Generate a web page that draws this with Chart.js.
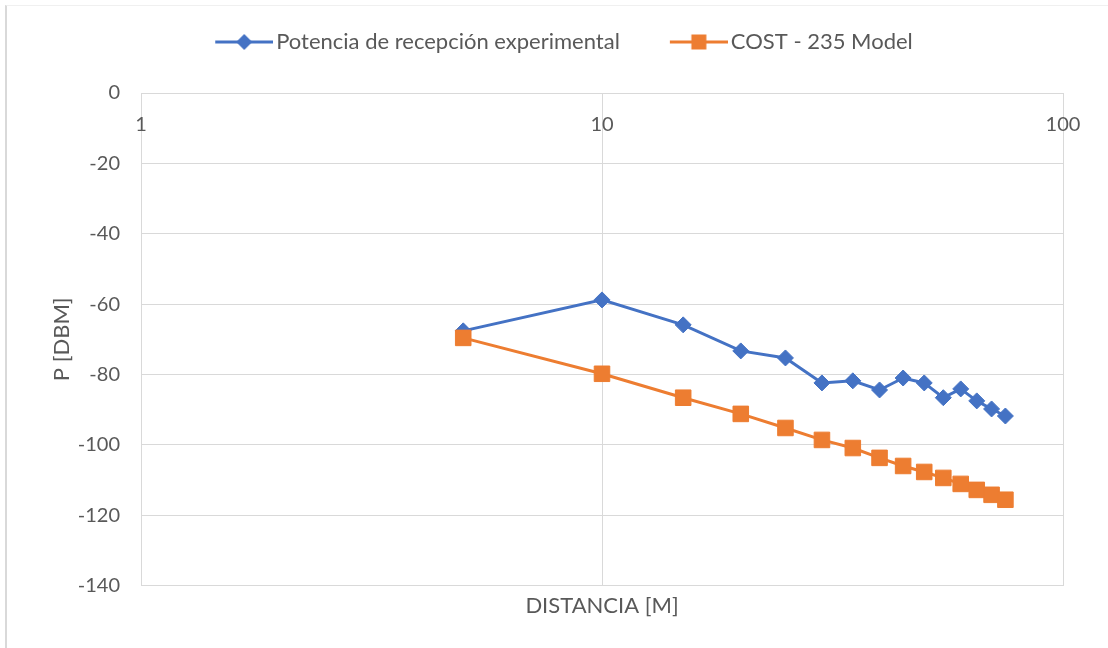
<!DOCTYPE html>
<html>
<head>
<meta charset="utf-8">
<script src="https://cdn.jsdelivr.net/npm/chart.js@4.4.1/dist/chart.umd.min.js"></script>
<style>
  html, body { margin: 0; padding: 0; background: #fff; }
  #wrap { position: relative; width: 1108px; height: 648px; }
  #frame { position: absolute; left: 5px; top: 5px; right: -10px; bottom: -10px;
           border-left: 2px solid #d9d9d9; border-top: 1px solid #f0f0f0; }
  canvas { position: absolute; left: 0; top: 0; }
</style>
</head>
<body>
<div id="wrap">
  <div id="frame"></div>
  <canvas id="chart" width="1108" height="648"></canvas>
</div>
<script>
// distancia en metros
const distances = [5, 10, 15, 20, 25, 30, 35, 40, 45, 50, 55, 60, 65, 70, 75];
// potencia de recepcion medida (dBm)
const experimental = [-67.6, -58.8, -65.9, -73.3, -75.3, -82.4, -81.8, -84.4, -81.0, -82.4, -86.6, -84.1, -87.5, -89.8, -91.8];
// modelo COST-235 (dBm)
const cost235 = [-69.6, -79.8, -86.6, -91.2, -95.2, -98.6, -100.9, -103.7, -106.0, -107.7, -109.4, -111.1, -112.8, -114.2, -115.6];
const xTicks = [1, 10, 100];
const seriesNames = ['Potencia de recepción experimental', 'COST - 235 Model'];

const BLUE = '#4472C4';
const ORANGE = '#ED7D31';
const GRID = '#d9d9d9';
const TEXT = '#595959';
const FONT = { family: 'Lato', size: 22 };
const TICK_FONT = { family: 'Lato', size: 20 };

// legend symbol: line with the marker in the middle (like Excel)
function legendIcon(color, shape) {
  const c = document.createElement('canvas');
  c.width = 86; c.height = 22;
  const g = c.getContext('2d');
  const x0 = c.width - 58, cx = c.width - 29, cy = 11;
  g.strokeStyle = color;
  g.lineWidth = 3;
  g.beginPath(); g.moveTo(x0, cy); g.lineTo(c.width, cy); g.stroke();
  g.fillStyle = color;
  g.beginPath();
  if (shape === 'diamond') {
    g.moveTo(cx, cy - 8); g.lineTo(cx + 8, cy); g.lineTo(cx, cy + 8); g.lineTo(cx - 8, cy);
  } else {
    g.rect(cx - 7.5, cy - 7.5, 15, 15);
  }
  g.closePath(); g.fill();
  return c;
}
const icons = [legendIcon(BLUE, 'diamond'), legendIcon(ORANGE, 'square')];

// extra room between legend and plot
const legendMargin = {
  id: 'legendMargin',
  beforeInit(chart) {
    const fit = chart.legend.fit;
    chart.legend.fit = function () {
      fit.bind(chart.legend)();
      this.height += 30;
    };
  }
};

const decadeTicks = axis => { axis.ticks = xTicks.map(v => ({ value: v })); };

const ctx = document.getElementById('chart').getContext('2d');
new Chart(ctx, {
  type: 'line',
  data: {
    datasets: [{
      label: seriesNames[0],
      data: distances.map((d, i) => ({ x: d, y: experimental[i] })),
      borderColor: BLUE,
      backgroundColor: BLUE,
      borderWidth: 3,
      pointStyle: 'rectRot',
      pointRadius: 8,
      pointBorderWidth: 1,
      tension: 0,
      order: 1 // orange series drawn on top, as in Excel
    }, {
      label: seriesNames[1],
      data: distances.map((d, i) => ({ x: d, y: cost235[i] })),
      borderColor: ORANGE,
      backgroundColor: ORANGE,
      borderWidth: 3,
      pointStyle: 'rect',
      pointRadius: 11,
      pointBorderWidth: 1,
      tension: 0,
      order: 0
    }]
  },
  options: {
    responsive: false,
    animation: false,
    layout: { padding: { left: 45, right: 45, top: 1, bottom: 29 } },
    plugins: {
      tooltip: { enabled: false },
      legend: {
        position: 'top',
        labels: {
          color: TEXT,
          font: FONT,
          padding: 30,
          usePointStyle: true,
          pointStyleWidth: 70,
          generateLabels: chart => chart.data.datasets.map((ds, i) => ({
            text: ds.label,
            fontColor: TEXT,
            pointStyle: icons[i],
            datasetIndex: i,
            hidden: false,
            lineWidth: 0
          }))
        }
      }
    },
    scales: {
      x: {
        type: 'logarithmic',
        position: 'bottom',
        min: 1,
        max: 100,
        afterBuildTicks: decadeTicks,
        ticks: { display: false },
        grid: { color: GRID, drawTicks: false },
        border: { display: false },
        title: { display: true, text: 'DISTANCIA [M]', color: TEXT, font: FONT, padding: { top: 7, bottom: 0 } }
      },
      // tick labels sit on the horizontal axis at y = 0
      xTop: {
        type: 'logarithmic',
        axis: 'x',
        position: { y: 0 },
        min: 1,
        max: 100,
        afterBuildTicks: decadeTicks,
        afterFit: s => { s.height = 0; },
        ticks: { color: TEXT, font: TICK_FONT, padding: 12, maxRotation: 0, autoSkip: false, callback: v => String(v) },
        grid: { display: false },
        border: { display: true, color: GRID, width: 1 }
      },
      y: {
        min: -140,
        max: 0,
        afterFit: s => { s.width = 96; },
        ticks: { stepSize: 20, color: TEXT, font: TICK_FONT, padding: 21 },
        grid: { color: GRID, drawTicks: false },
        border: { display: false },
        title: { display: true, text: 'P [DBM]', color: TEXT, font: FONT }
      }
    }
  },
  plugins: [legendMargin]
});
</script>
</body>
</html>
